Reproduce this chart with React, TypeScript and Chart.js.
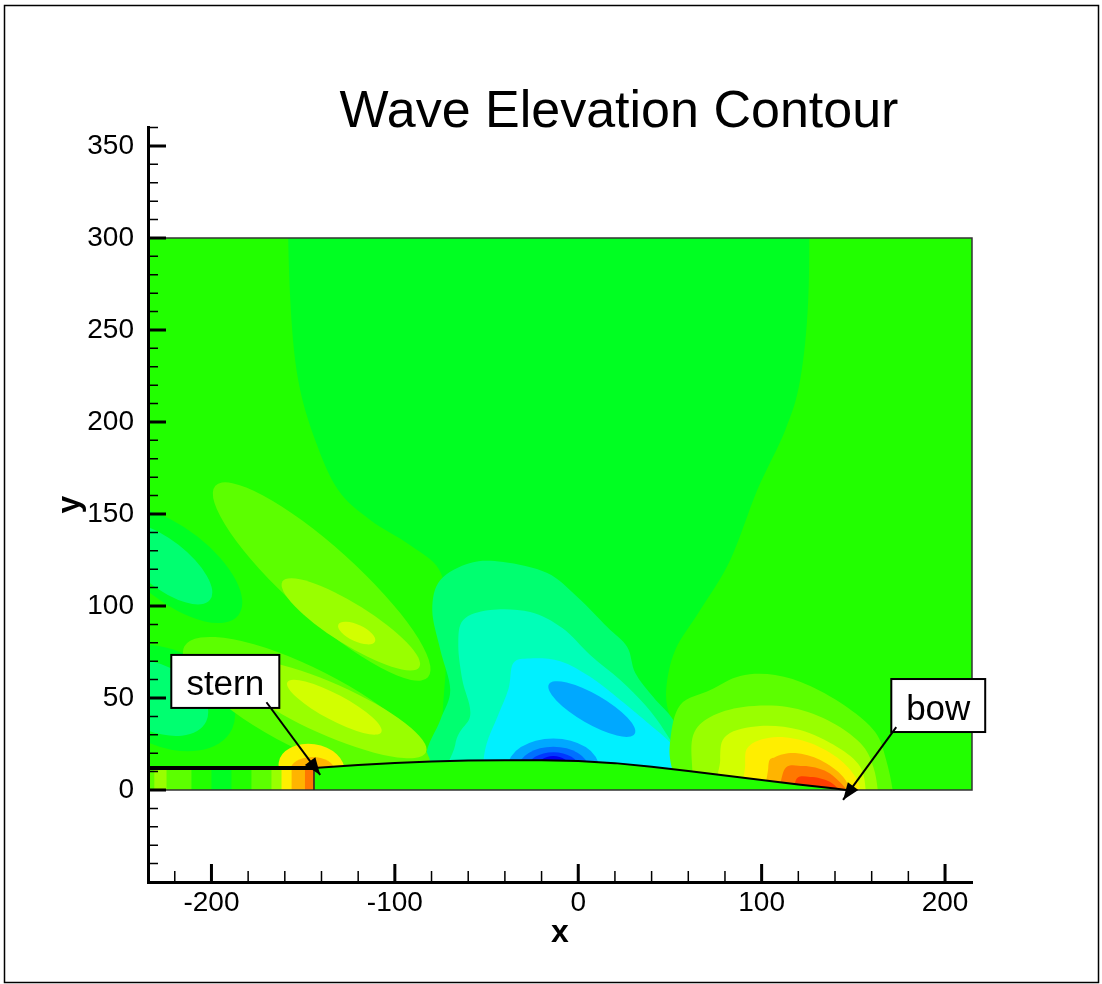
import React, { useEffect, useRef } from 'react';
import { Chart, registerables } from 'chart.js';

Chart.register(...registerables);

type Pt = [number, number];
// [centerX, centerY, radiusX, radiusY, tiltDeg (down-right positive), level]
type Blob = [number, number, number, number, number, number];

const FONT = '"Liberation Sans", Arial, Helvetica, sans-serif';

// ---------- axes ----------
const X_MIN = -234.6;
const X_MAX = 214.7;
const Y_MIN = -50;
const Y_MAX = 360.3;
const xMajorTicks = [-200, -100, 0, 100, 200];
const xMinorTicks = [-220, -180, -160, -140, -120, -80, -60, -40, -20, 20, 40, 60, 80, 120, 140, 160, 180];
const yMajorTicks = [0, 50, 100, 150, 200, 250, 300, 350];
const yMinorTicks = [-40, -30, -20, -10, 10, 20, 30, 40, 60, 70, 80, 90, 110, 120, 130, 140, 160, 170, 180, 190, 210, 220, 230, 240, 260, 270, 280, 290, 310, 320, 330, 340, 360];

// ---------- computational domain ----------
const domainX: Pt = [-234.6, 214.7];
const domainY: Pt = [0, 300];

// ---------- contour levels ----------
const levelIds = [-8, -7, -6, -5, -4, -3, -2, -1, 1, 2, 3, 4, 5, 6, 7, 8];
const levelColors = ['#0000F0', '#0038FF', '#0070FF', '#00A8FF', '#00F0FF', '#00FFB8', '#00FF70', '#00FF22',
  '#22FF00', '#5CFF00', '#99FF00', '#D2FF00', '#FFEE00', '#FFB400', '#FF7800', '#FF3C00'];
const colorOf = (lv: number) => levelColors[levelIds.indexOf(lv)];

// ---------- hull ----------
const hullX = [-144.1, -120, -100, -80, -60, -40, -20, 0, 20, 40, 60, 80, 100, 120, 140, 146];
const hullY = [12.0, 13.6, 14.7, 15.5, 16.0, 16.2, 16.2, 15.8, 14.6, 12.6, 10.3, 7.9, 5.4, 3.0, 0.8, 0];
const centerlineX = [-234.6, -144.1];
const centerlineY = [11.9, 11.9];
const transomX = [-144.1, -144.1];
const transomY = [0, 11.9];

// ---------- wake strip behind the transom ----------
const wakeEdges = [-234.6, -231.2, -224.5, -210.9, -200, -189.1, -178.2, -167.3, -161.8, -156.3, -149, -144.1];
const wakeLevels = [2, 3, 2, 1, -1, 1, 2, 3, 5, 6, 7];
const wakeTop = 11.9;

// ---------- contour regions (data units) ----------
const centralBand: Pt[] = [[-158, 420], [-158.5, 330], [-157, 266], [-152.7, 222.8], [-143.4, 190], [-130.9, 163],
  [-113.4, 146.7], [-91.6, 133], [-76, 120], [-72, 100], [-72, 70], [-74, 40], [-74, 10], [-74, -20], [68, -20],
  [68, 8], [58, 25], [50, 40], [48, 55], [52.9, 76.1], [66.5, 97.8], [82.9, 125], [97.6, 163], [112.9, 195.7],
  [121, 222.8], [125.4, 266.3], [126, 330], [126.5, 420]];
const aquaRegion: Pt[] = [[-75.2, 114.1], [-58.9, 123.4], [-40.9, 123.9], [-16.9, 117.9], [-0.5, 104.9], [15.8, 88.6],
  [26.7, 77.7], [31.1, 63.6], [40.9, 50.5], [51.8, 38], [58, 21.7], [62, 8.2], [62, -20], [-80.7, -20], [-83.4, 16.3],
  [-75.2, 38], [-69.8, 54.3], [-75.2, 76.1], [-79.6, 97.8]];
const innerAquaRegion: Pt[] = [[-62.7, 92.4], [-48, 97.8], [-26.2, 96.7], [-8.7, 88], [6.5, 73.4], [22.9, 59.8],
  [36.5, 46.2], [47.4, 31.5], [55, 15.2], [56, -20], [-69.8, -20], [-67.1, 24.5], [-58.9, 40.8], [-63.2, 59.8],
  [-65.4, 78.8]];
const cyanRegion: Pt[] = [[-35.4, 69], [-26.2, 71.5], [-9.8, 70], [6.5, 61.5], [22.9, 48.9], [39.3, 35.3], [51.3, 24.5],
  [57, 13.6], [58, -20], [-52, -20], [-52, 10], [-50, 25], [-44, 40], [-38, 55]];

const bowLevel2: Pt[] = [[50.2, 27.2], [55.6, 46.2], [72, 54.3], [88.3, 62], [107.4, 62.5], [126.5, 56.5], [147.2, 44.6],
  [161.9, 31.5], [167.9, 16.3], [171.8, -3], [172, -20], [61.1, -20], [51.3, 10.9]];
const bowLevel3: Pt[] = [[62.7, 29.9], [72, 39.7], [90, 45.1], [114, 45.1], [135.8, 38], [153.8, 25.5], [160.9, 12.5],
  [163.6, -3], [164, -20], [65.4, -20], [62.2, 10.9]];
const bowLevel4: Pt[] = [[77.4, 16.3], [81.2, 29.9], [99.2, 34.8], [121, 32.6], [141.2, 23.4], [153.8, 12.5], [157, -3],
  [157.2, -20], [80.2, -20]];
const bowLevel5: Pt[] = [[91, 13.6], [93.8, 24.5], [108.5, 28.8], [126.5, 25.5], [142.9, 16.3], [152.1, 5.4], [153.8, -3],
  [154, -20], [93.8, -20]];
const bowLevel6: Pt[] = [[103.6, 12], [107.4, 17.9], [118.3, 20.1], [132, 16.3], [144.5, 7.1], [148.3, -3], [148.5, -20],
  [104.7, -20]];
const bowLevel7: Pt[] = [[111.8, 9.8], [122.7, 13], [135.8, 9.8], [145.6, 1.1], [146, -3], [146, -20], [111.8, -20]];
const bowLevel8: Pt[] = [[118.3, 4.3], [126.5, 7.1], [137.4, 4.3], [142.9, -3], [143, -20], [118.3, -20]];

const troughBlobs: Blob[] = [
  [-220, 122, 44, 20, 38, -1],
  [-226, 123, 32, 13, 38, -2],
  [-225, 50, 40, 26, 25, -1],
  [-230, 50, 30, 18, 25, -2],
];
const blueBlobs: Blob[] = [
  [7.4, 44, 27, 8, 30, -5],
  [-13.6, 12, 25, 16, 0, -5],
  [-13.6, 12, 19, 11.5, 0, -6],
  [-13.6, 12, 14, 8.5, 0, -7],
  [-13.6, 12, 9, 6.5, 0, -8],
];
const sternCrestA: Blob[] = [
  [-139.9, 113.3, 78, 19, 42, 2],
  [-124, 90, 44, 11, 32, 3],
  [-120.8, 85.3, 11, 4.5, 25, 4],
];
const sternCrestB: Blob[] = [
  [-148, 44, 75, 22, 27, 2],
  [-136, 44, 58, 14, 24, 3],
  [-133, 45, 29, 7, 28, 4],
  [-145.5, 12.5, 18, 12.5, 8, 5],
  [-145, 10.9, 12, 7, 0, 6],
  [-146, 9, 6, 5, 0, 7],
];

type Layer = { poly?: Pt[]; blob?: Blob; level: number };
const contourLayers: Layer[] = [
  { poly: centralBand, level: -1 },
  ...troughBlobs.map((b) => ({ blob: b, level: b[5] })),
  { poly: aquaRegion, level: -2 },
  { poly: innerAquaRegion, level: -3 },
  { poly: cyanRegion, level: -4 },
  ...blueBlobs.map((b) => ({ blob: b, level: b[5] })),
  ...sternCrestA.map((b) => ({ blob: b, level: b[5] })),
  ...sternCrestB.map((b) => ({ blob: b, level: b[5] })),
  { poly: bowLevel2, level: 2 },
  { poly: bowLevel3, level: 3 },
  { poly: bowLevel4, level: 4 },
  { poly: bowLevel5, level: 5 },
  { poly: bowLevel6, level: 6 },
  { poly: bowLevel7, level: 7 },
  { poly: bowLevel8, level: 8 },
];

// ---------- annotations ----------
const sternLabel = 'stern';
const sternBox = [-221.9, 44.6, -163, 73.4];
const sternArrow: Pt[] = [[-170, 47.7], [-140.7, 8.2]];
const bowLabel = 'bow';
const bowBox = [170.7, 31.5, 221.9, 60.3];
const bowArrow: Pt[] = [[173.4, 34.2], [144.4, -5.4]];
const chartTitle = 'Wave Elevation Contour';

function smoothClosed(ctx: CanvasRenderingContext2D, pts: Pt[]) {
  const n = pts.length;
  ctx.moveTo(pts[0][0], pts[0][1]);
  for (let i = 0; i < n; i++) {
    const p0 = pts[(i - 1 + n) % n];
    const p1 = pts[i];
    const p2 = pts[(i + 1) % n];
    const p3 = pts[(i + 2) % n];
    ctx.bezierCurveTo(
      p1[0] + (p2[0] - p0[0]) / 6, p1[1] + (p2[1] - p0[1]) / 6,
      p2[0] - (p3[0] - p1[0]) / 6, p2[1] - (p3[1] - p1[1]) / 6,
      p2[0], p2[1]
    );
  }
  ctx.closePath();
}

const contourPlugin = {
  id: 'contourField',
  beforeDatasetsDraw(chart: any) {
    const { ctx } = chart;
    const xs = chart.scales.x;
    const ys = chart.scales.y;
    const px = (v: number) => xs.getPixelForValue(v);
    const py = (v: number) => ys.getPixelForValue(v);
    const kx = Math.abs(px(1) - px(0));
    const ky = Math.abs(py(1) - py(0));
    const x0 = px(domainX[0]);
    const x1 = px(domainX[1]);
    const y0 = py(domainY[0]);
    const y1 = py(domainY[1]);
    ctx.save();
    ctx.beginPath();
    ctx.rect(x0, y1, x1 - x0, y0 - y1);
    ctx.clip();
    ctx.fillStyle = colorOf(1);
    ctx.fillRect(x0, y1, x1 - x0, y0 - y1);
    for (const layer of contourLayers) {
      ctx.fillStyle = colorOf(layer.level);
      ctx.beginPath();
      if (layer.poly) {
        smoothClosed(ctx, layer.poly.map(([x, y]) => [px(x), py(y)] as Pt));
      } else if (layer.blob) {
        const [cx, cy, rx, ry, tilt] = layer.blob;
        ctx.ellipse(px(cx), py(cy), rx * kx, ry * ky, (tilt * Math.PI) / 180, 0, Math.PI * 2);
      }
      ctx.fill();
    }
    // hull (flat, undisturbed) region
    ctx.fillStyle = colorOf(1);
    ctx.beginPath();
    ctx.moveTo(px(hullX[0]), py(-20));
    hullX.forEach((x, i) => ctx.lineTo(px(x), py(hullY[i])));
    ctx.lineTo(px(hullX[hullX.length - 1]), py(-20));
    ctx.closePath();
    ctx.fill();
    // wake strip
    for (let i = 0; i < wakeLevels.length; i++) {
      ctx.fillStyle = colorOf(wakeLevels[i]);
      const a = px(wakeEdges[i]);
      const b = px(wakeEdges[i + 1]);
      ctx.fillRect(a, py(wakeTop), b - a + 0.5, py(0) - py(wakeTop));
    }
    ctx.restore();
    // domain outline
    ctx.save();
    ctx.strokeStyle = '#333';
    ctx.lineWidth = 1.5;
    ctx.beginPath();
    ctx.moveTo(x0, y1);
    ctx.lineTo(x1, y1);
    ctx.lineTo(x1, y0);
    ctx.lineTo(x0, y0);
    ctx.stroke();
    ctx.restore();
  },
};

function drawArrow(ctx: CanvasRenderingContext2D, ax: number, ay: number, bx: number, by: number) {
  ctx.beginPath();
  ctx.moveTo(ax, ay);
  ctx.lineTo(bx, by);
  ctx.stroke();
  const ang = Math.atan2(by - ay, bx - ax);
  const L = 17;
  const W = 6.5;
  const cx = bx - L * Math.cos(ang);
  const cy = by - L * Math.sin(ang);
  ctx.beginPath();
  ctx.moveTo(bx, by);
  ctx.lineTo(cx + W * Math.sin(ang), cy - W * Math.cos(ang));
  ctx.lineTo(cx - W * Math.sin(ang), cy + W * Math.cos(ang));
  ctx.closePath();
  ctx.fill();
}

const overlayPlugin = {
  id: 'overlay',
  afterDraw(chart: any) {
    const { ctx, chartArea } = chart;
    const xs = chart.scales.x;
    const ys = chart.scales.y;
    const px = (v: number) => xs.getPixelForValue(v);
    const py = (v: number) => ys.getPixelForValue(v);
    const { left, bottom } = chartArea;
    ctx.save();
    ctx.strokeStyle = '#000';
    ctx.fillStyle = '#000';
    // inward tick marks
    ctx.lineWidth = 3;
    ctx.beginPath();
    xMajorTicks.forEach((v) => { const p = px(v); ctx.moveTo(p, bottom); ctx.lineTo(p, bottom - 18); });
    yMajorTicks.forEach((v) => { const p = py(v); ctx.moveTo(left, p); ctx.lineTo(left + 18, p); });
    ctx.stroke();
    ctx.lineWidth = 1.5;
    ctx.beginPath();
    xMinorTicks.forEach((v) => { const p = px(v); ctx.moveTo(p, bottom); ctx.lineTo(p, bottom - 11); });
    yMinorTicks.forEach((v) => { const p = py(v); ctx.moveTo(left, p); ctx.lineTo(left + 10, p); });
    ctx.stroke();

    // frame
    ctx.lineWidth = 1.5;
    ctx.strokeRect(4.5, 5.5, 1094, 977);

    // title
    ctx.font = `52px ${FONT}`;
    ctx.textAlign = 'center';
    ctx.textBaseline = 'alphabetic';
    ctx.fillText(chartTitle, 619, 127);

    // callouts
    const callout = (box: number[], label: string, arrow: Pt[]) => {
      const bx0 = px(box[0]);
      const bx1 = px(box[2]);
      const by0 = py(box[3]);
      const by1 = py(box[1]);
      ctx.fillStyle = '#fff';
      ctx.fillRect(bx0, by0, bx1 - bx0, by1 - by0);
      ctx.lineWidth = 2;
      ctx.strokeStyle = '#000';
      ctx.strokeRect(bx0, by0, bx1 - bx0, by1 - by0);
      ctx.fillStyle = '#000';
      ctx.font = `35px ${FONT}`;
      ctx.textAlign = 'center';
      ctx.fillText(label, (bx0 + bx1) / 2, (by0 + by1) / 2 + 14);
      ctx.lineWidth = 2;
      drawArrow(ctx, px(arrow[0][0]), py(arrow[0][1]), px(arrow[1][0]), py(arrow[1][1]));
    };
    callout(sternBox, sternLabel, sternArrow);
    callout(bowBox, bowLabel, bowArrow);
    ctx.restore();
  },
};

export default function App() {
  const ref = useRef<HTMLCanvasElement | null>(null);
  useEffect(() => {
    if (!ref.current) return;
    const toXY = (xsArr: number[], ysArr: number[]) => xsArr.map((x, i) => ({ x, y: ysArr[i] }));
    const chart = new Chart(ref.current, {
      type: 'scatter',
      data: {
        datasets: [
          { label: 'hull', data: toXY(hullX, hullY), showLine: true, borderColor: '#000', borderWidth: 2, pointRadius: 0, tension: 0 },
          { label: 'centerline', data: toXY(centerlineX, centerlineY), showLine: true, borderColor: '#000', borderWidth: 4, pointRadius: 0 },
          { label: 'transom', data: toXY(transomX, transomY), showLine: true, borderColor: '#222', borderWidth: 1.5, pointRadius: 0 },
        ],
      },
      options: {
        animation: false,
        responsive: false,
        devicePixelRatio: 1,
        events: [],
        layout: { padding: { left: 0, top: 127, right: 130, bottom: 32 } },
        plugins: { legend: { display: false }, tooltip: { enabled: false }, title: { display: false } },
        scales: {
          x: {
            type: 'linear',
            min: X_MIN,
            max: X_MAX,
            afterBuildTicks: (s: any) => { s.ticks = xMajorTicks.map((v) => ({ value: v })); },
            afterFit: (s: any) => { s.height = 70; },
            grid: { display: false, drawTicks: false },
            border: { display: true, color: '#000', width: 3, z: 1 },
            ticks: { color: '#000', font: { family: FONT, size: 28 }, padding: 4, maxRotation: 0, autoSkip: false, callback: (v: any) => String(v) },
            title: { display: true, text: 'x', color: '#000', font: { family: FONT, size: 32, weight: 'bold' }, padding: { top: 0, bottom: 0 } },
          },
          y: {
            type: 'linear',
            min: Y_MIN,
            max: Y_MAX,
            afterBuildTicks: (s: any) => { s.ticks = yMajorTicks.map((v) => ({ value: v })); },
            afterFit: (s: any) => { s.width = 148; },
            grid: { display: false, drawTicks: false },
            border: { display: true, color: '#000', width: 3, z: 1 },
            ticks: { color: '#000', font: { family: FONT, size: 28 }, padding: 14, autoSkip: false, callback: (v: any) => String(v) },
            title: { display: true, text: 'y', color: '#000', font: { family: FONT, size: 32, weight: 'bold' }, padding: { top: 51, bottom: 0 } },
          },
        },
      } as any,
      plugins: [contourPlugin, overlayPlugin],
    });
    return () => chart.destroy();
  }, []);
  return (
    <div style={{ position: 'absolute', left: 0, top: 0, width: 1102, height: 984, background: '#fff' }}>
      <canvas ref={ref} width={1102} height={984} style={{ display: 'block', width: 1102, height: 984 }} />
    </div>
  );
}
